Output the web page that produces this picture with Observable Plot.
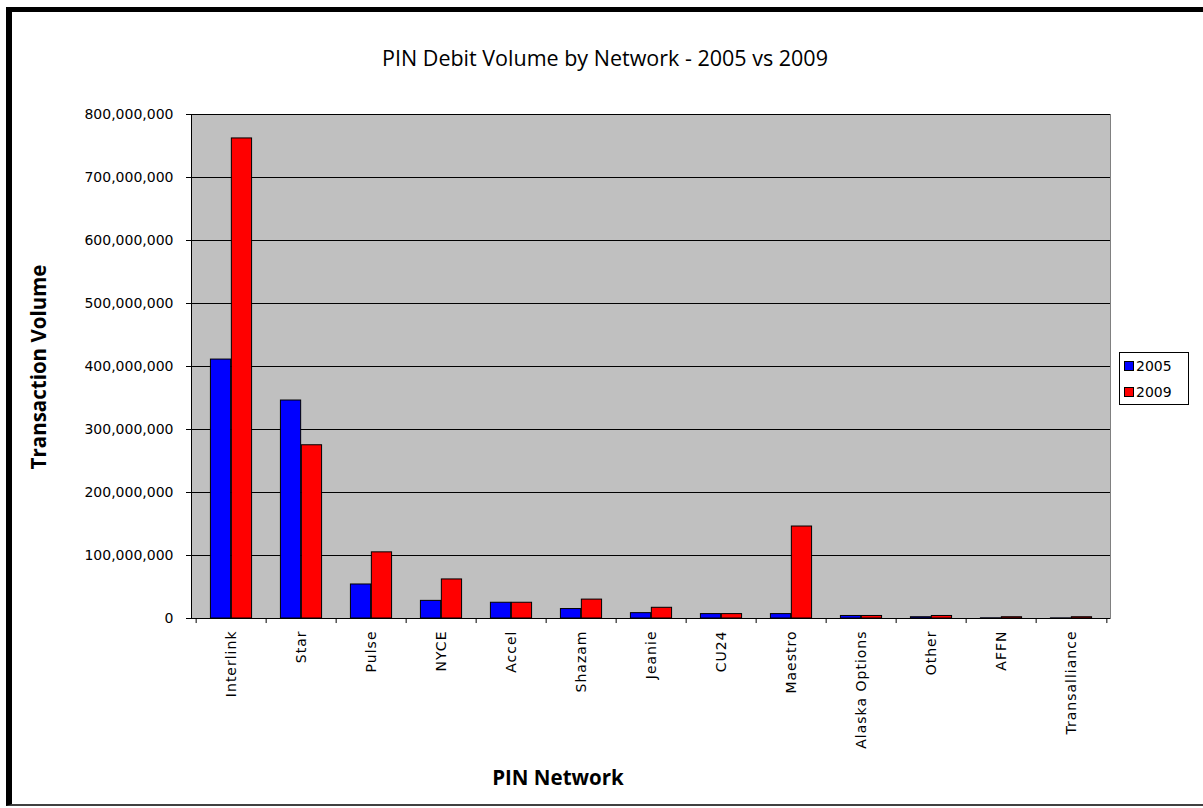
<!DOCTYPE html>
<html>
<head>
<meta charset="utf-8">
<script src="https://cdn.jsdelivr.net/npm/d3@7"></script>
<script src="https://cdn.jsdelivr.net/npm/@observablehq/plot@0.6"></script>
<style>
  html, body { margin: 0; padding: 0; background: #fff; }
  #wrap { position: relative; width: 1203px; height: 808px; overflow: hidden; background: #fff; }
  #frame { position: absolute; left: 6px; top: 7px; width: 1197px; height: 799px; box-sizing: border-box;
           border-left: 6px solid #000; border-top: 5px solid #000; border-bottom: 2px solid #404040; }
  #chart { position: absolute; left: 0; top: 0; }
  #chart svg g[aria-label="x-axis tick label"] text { letter-spacing: 1px; }
  .title { position: absolute; font-family: "Open Sans", sans-serif; color: #000; white-space: nowrap; }
  #legend { position: absolute; left: 1119px; top: 352px; width: 70px; height: 53px; box-sizing: border-box;
            border: 1px solid #000; background: #fff; font-family: "DejaVu Sans", sans-serif; font-size: 14px; }
  .li { position: absolute; left: 4px; display: flex; align-items: center; }
  .sw { width: 8px; height: 8px; border: 1px solid #000; margin-right: 2px; }
</style>
</head>
<body>
<div id="wrap">
  <div id="frame"></div>
  <div id="chart"></div>
  <div class="title" id="t1" style="left:605px; top:43px; transform:translateX(-50%); font-size:21.5px;">PIN Debit Volume by Network - 2005 vs 2009</div>
  <div class="title" id="t2" style="left:38px; top:367px; transform:translate(-50%,-50%) rotate(-90deg); font-size:20.5px; font-weight:bold;">Transaction Volume</div>
  <div class="title" id="t3" style="left:558px; top:763px; transform:translateX(-50%); font-size:20.5px; font-weight:bold;">PIN Network</div>
  <div id="legend"></div>
</div>
<script>
const networks = ["Interlink","Star","Pulse","NYCE","Accel","Shazam","Jeanie","CU24","Maestro","Alaska Options","Other","AFFN","Transalliance"];
const years = ["2005","2009"];
const colors = ["#0000FF","#FF0000"];
const vol2005 = [411000000, 346000000, 54000000, 28000000, 25000000, 15000000, 8500000, 7000000, 7000000, 4000000, 2000000, 300000, 200000];
const vol2009 = [762000000, 275000000, 105000000, 62000000, 25000000, 30000000, 17000000, 7000000, 146000000, 4000000, 4000000, 2000000, 2000000];
const yTicks = [0,100000000,200000000,300000000,400000000,500000000,600000000,700000000,800000000];

const rows2005 = networks.map((n,i) => ({network: n, year: years[0], value: vol2005[i]}));
const rows2009 = networks.map((n,i) => ({network: n, year: years[1], value: vol2009[i]}));

const W = 1203, H = 808, mL = 191, mR = 93, mT = 114, mB = 190;
const bw = (W - mL - mR) / networks.length;
const inOuter = bw * 0.204, inInner = bw * 0.5;

const chart = Plot.plot({
  width: W, height: H,
  marginLeft: mL, marginRight: mR, marginTop: mT, marginBottom: mB,
  style: {background: "transparent", fontFamily: "'DejaVu Sans', sans-serif", fontSize: "14px", color: "#000", overflow: "visible"},
  x: {domain: networks, padding: 0, label: null},
  y: {domain: [0, 800000000], label: null},
  color: {domain: years, range: colors},
  marks: [
    Plot.frame({fill: "#C0C0C0", stroke: "#808080"}),
    Plot.gridY(yTicks, {stroke: "#000", strokeOpacity: 1, strokeWidth: 1}),
    Plot.barY(rows2005, {x: "network", y: "value", fill: d => d.year, stroke: "#000", strokeWidth: 1, insetLeft: inOuter, insetRight: bw - inInner}),
    Plot.barY(rows2009, {x: "network", y: "value", fill: d => d.year, stroke: "#000", strokeWidth: 1, insetLeft: inInner, insetRight: inOuter}),
    Plot.ruleY([0], {stroke: "#000"}),
    Plot.frame({anchor: "left", stroke: "#000"}),
    Plot.axisY({ticks: yTicks, tickFormat: d3.format(","), tickSize: 5, tickPadding: 13, fontSize: 14, label: null}),
    Plot.axisX({tickSize: 0, tickRotate: -90, tickPadding: 12, fontSize: 14, label: null}),
    Plot.ruleX(networks, {x: d => d, y1: 0, y2: -8000000, dx: -bw/2, stroke: "#000"}),
    Plot.ruleX([networks[networks.length-1]], {x: d => d, y1: 0, y2: -8000000, dx: bw/2, stroke: "#000"})
  ]
});
document.getElementById("chart").appendChild(chart);

const legend = document.getElementById("legend");
years.forEach((y, i) => {
  const el = document.createElement("div");
  el.className = "li";
  el.style.top = (5 + i * 26) + "px";
  el.innerHTML = `<div class="sw" style="background:${colors[i]}"></div><span>${y}</span>`;
  legend.appendChild(el);
});
</script>
</body>
</html>
